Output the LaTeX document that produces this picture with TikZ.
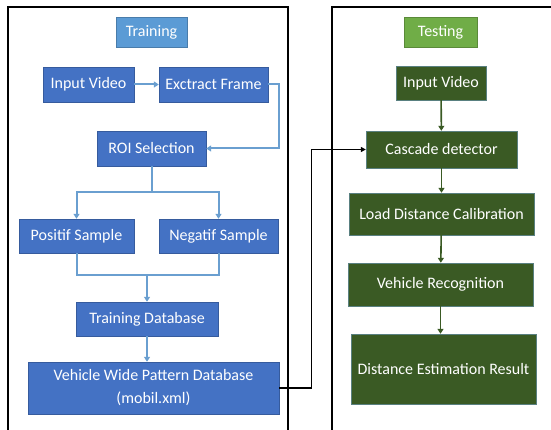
\documentclass[tikz,border=0pt]{standalone}
\usepackage{fontspec}
\setmainfont{Carlito}
\usetikzlibrary{arrows.meta}
\definecolor{trainblue}{HTML}{4472C4}
\definecolor{trainlight}{HTML}{5B9BD5}
\definecolor{testgreen}{HTML}{3A5A24}
\definecolor{testlight}{HTML}{70AD47}
\definecolor{linkblue}{HTML}{6A9FD0}
\tikzset{
    tbox/.style={draw=trainblue!80!black,fill=trainblue,text=white,inner sep=0pt,
        font=\fontsize{16}{23}\selectfont,align=center},
    gbox/.style={draw=gray!70!teal,fill=testgreen,text=white,inner sep=0pt,
        font=\fontsize{16}{23}\selectfont,align=center},
    bline/.style={draw=linkblue,line width=2pt},
    barrow/.style={bline,-{Triangle[length=5pt,width=6pt]}},
    garrow/.style={draw=testgreen,line width=1.6pt,-{Triangle[length=5pt,width=6pt]}}
}
\begin{document}
\begin{tikzpicture}[x=1pt,y=-1pt]
            \useasboundingbox (0,0) rectangle (551,430);
            \draw[line width=1.8pt] (8,432) -- (8,7) -- (288,7) -- (288,432);
            \draw[line width=1.8pt] (332,432) -- (332,7) -- (553,7);
            \node[tbox,fill=trainlight,draw=trainlight!80!black,minimum width=71pt,minimum height=30pt] (train) at (151.5,32) {Training};
            \node[tbox,minimum width=91pt,minimum height=35pt] (inL) at (88.5,84.5) {Input Video};
            \node[tbox,minimum width=109pt,minimum height=35pt] (extract) at (213.5,84.5) {Exctract Frame};
            \node[tbox,minimum width=109pt,minimum height=35pt] (roi) at (151.5,148.5) {ROI Selection};
            \node[tbox,minimum width=115pt,minimum height=34pt] (pos) at (76.5,236) {Positif Sample};
            \node[tbox,minimum width=119pt,minimum height=34pt] (neg) at (218.5,236) {Negatif Sample};
            \node[tbox,minimum width=142pt,minimum height=34pt] (tdb) at (147,319) {Training Database};
            \node[tbox,minimum width=251pt,minimum height=52pt] (vwp) at (153.5,388) {Vehicle Wide Pattern Database\\(mobil.xml)};
            \node[gbox,fill=testlight,draw=testlight!80!black,minimum width=73pt,minimum height=30pt] (test) at (440.5,32) {Testing};
            \node[gbox,minimum width=90pt,minimum height=34pt] (inR) at (441,83) {Input Video};
            \node[gbox,minimum width=151pt,minimum height=37pt] (casc) at (441.5,149.5) {Cascade detector};
            \node[gbox,minimum width=185pt,minimum height=42pt] (load) at (441.5,214) {Load Distance Calibration};
            \node[gbox,minimum width=185pt,minimum height=43pt] (vrec) at (440.5,284.5) {Vehicle Recognition};
            \node[gbox,minimum width=185pt,minimum height=70pt] (dist) at (443.5,369) {Distance Estimation Result};
            \draw[barrow] (inL) -- (extract);
            \draw[barrow] (extract.east) -- ++(11,0) |- (roi.east);
            \draw[bline] (roi.south) -- ++(0,26) coordinate (split);
            \draw[barrow] (split) -| (pos.north);
            \draw[barrow] (split) -| (neg.north);
            \draw[bline] (pos.south) -- ++(0,22) coordinate (merge) -| (neg.south);
            \draw[barrow] (merge -| tdb.north) -- (tdb.north);
            \draw[barrow] (tdb.south) -- (tdb.south |- vwp.north);
            \draw[line width=1.2pt,-{Triangle[length=5pt,width=5pt]}] (vwp.east) -- ++(32,0) |- (casc.west);
            \draw[garrow] (inR) -- (casc);
            \draw[garrow] (casc) -- (load);
            \draw[garrow] (load) -- (vrec);
            \draw[garrow] (vrec) -- (vrec |- dist.north);
\end{tikzpicture}
\end{document}
